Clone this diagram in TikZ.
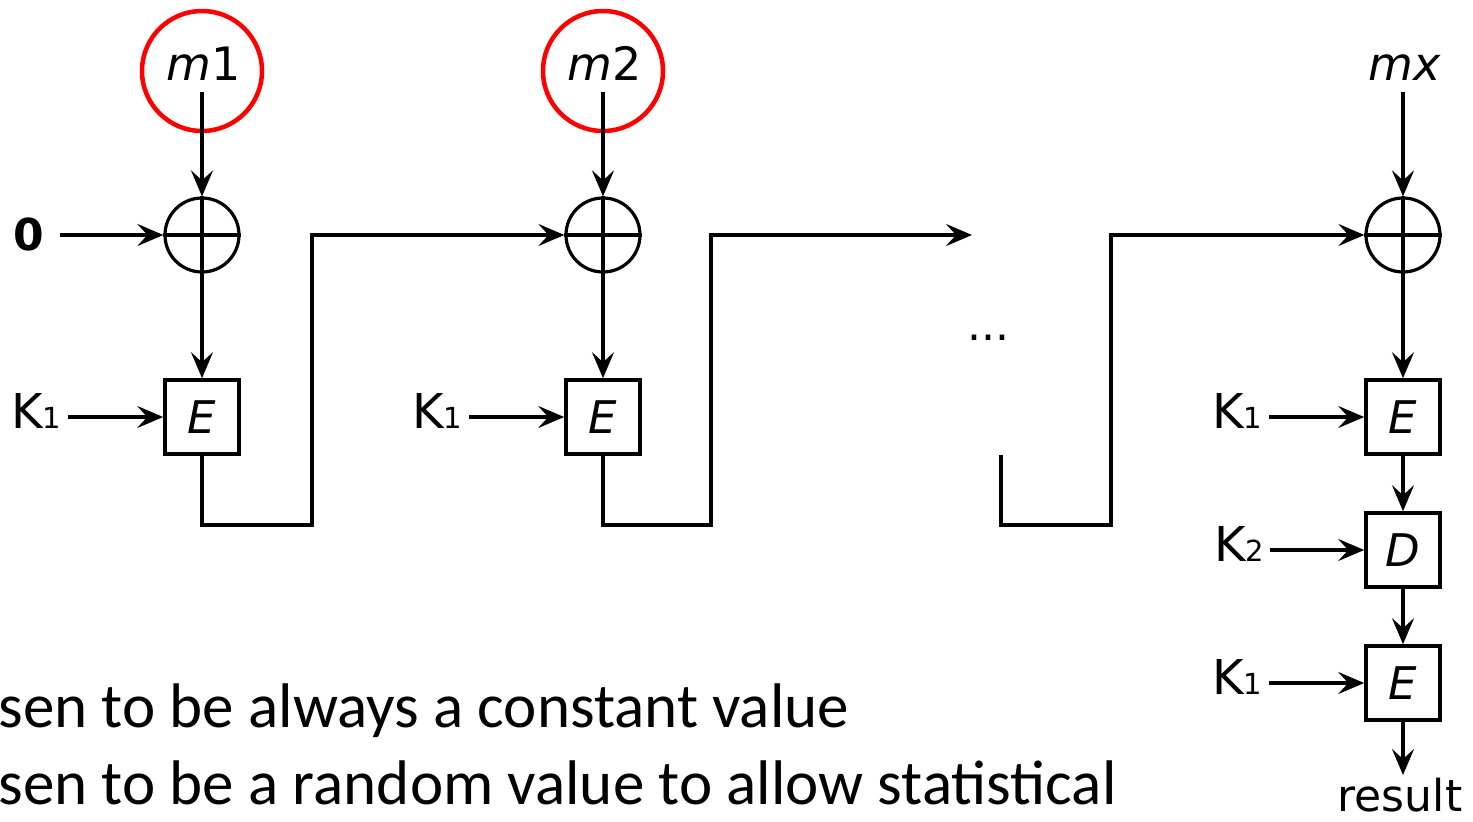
\documentclass[tikz,border=0pt]{standalone}
\usepackage{fontspec}
\setmainfont{DejaVu Sans}
\newfontfamily\bodyfont{Carlito}
\usetikzlibrary{arrows.meta}
\begin{document}
\begin{tikzpicture}[x=1pt,y=-1pt,
  line width=3.2pt,
  arr/.style={-{Stealth[length=26pt,width=22pt,inset=10pt]}},
  xorn/.style={circle,draw,minimum size=74pt,inner sep=0pt},
  blockbox/.style={draw,minimum size=74pt,inner sep=0pt,line width=3.6pt,font=\fontsize{45}{45}\selectfont\itshape},
  lbl/.style={inner sep=0pt,font=\fontsize{48}{48}\selectfont},
  ring/.style={circle,draw=red,line width=4.5pt,minimum size=120pt,inner sep=0pt},
  msg/.style={inner sep=0pt,font=\fontsize{46}{46}\selectfont}
]
\useasboundingbox (0,0) rectangle (1473,822);
\newcommand{\kk}[1]{K{\fontsize{29}{29}\selectfont #1}}

% column 1
\node[ring] (r1) at (202,71) {};
\node[msg,anchor=base] (m1) at (204,80) {\textit{m}1};
\node[xorn] (x1) at (202,235) {};
\draw (x1.north) -- (x1.south) (x1.west) -- (x1.east);
\node[inner sep=0pt,anchor=base,font=\fontsize{44}{44}\selectfont\bfseries] (zero) at (29,250) {0};
\coordinate (m1s) at (202,92);
\draw[arr] (m1s) -- (x1.north);
\draw[arr] (zero.east |- x1.west) ++(14,0) -- (x1.west);
\node[blockbox] (e1) at (202,417) {E};
\node[lbl,anchor=base east] (k1) at (63,428) {\kk{1}};
\draw[arr] (x1.south) -- (e1.north);
\draw[arr] ([xshift=5pt]k1.east |- e1.west) -- (e1.west);

% column 2
\node[ring] (r2) at (603,71) {};
\node[msg,anchor=base] (m2) at (605,80) {\textit{m}2};
\node[xorn] (x2) at (603,235) {};
\draw (x2.north) -- (x2.south) (x2.west) -- (x2.east);
\coordinate (m2s) at (603,92);
\draw[arr] (m2s) -- (x2.north);
\node[blockbox] (e2) at (603,417) {E};
\node[lbl,anchor=base east] (k2) at (464,428) {\kk{1}};
\draw[arr] (x2.south) -- (e2.north);
\draw[arr] ([xshift=5pt]k2.east |- e2.west) -- (e2.west);
\draw[arr] (e1.south) -- (202,525) -- (312,525) -- (312,235) -- (x2.west);

% middle
\coordinate (gapend) at (972,235);
\draw[arr] (e2.south) -- (603,525) -- (711,525) -- (711,235) -- (gapend);
\node[inner sep=0pt,font=\fontsize{44}{44}\selectfont] (dots) at (988,338) {...};
\coordinate (gapstart) at (1001,455);

% column 3
\node[msg,anchor=base] (mx) at (1405,80) {\textit{mx}};
\node[xorn] (x3) at (1403,235) {};
\draw (x3.north) -- (x3.south) (x3.west) -- (x3.east);
\coordinate (mxs) at (1403,92);
\draw[arr] (mxs) -- (x3.north);
\draw[arr] (gapstart) -- (1001,525) -- (1111,525) -- (1111,235) -- (x3.west);
\node[blockbox] (e3) at (1403,417) {E};
\node[lbl,anchor=base east] (k3) at (1264,428) {\kk{1}};
\draw[arr] (x3.south) -- (e3.north);
\draw[arr] ([xshift=5pt]k3.east |- e3.west) -- (e3.west);
\node[blockbox] (d3) at (1403,550) {D};
\node[lbl,anchor=base east] (k4) at (1266,561) {\kk{2}};
\draw[arr] (e3.south) -- (d3.north);
\draw[arr] ([xshift=4pt]k4.east |- d3.west) -- (d3.west);
\node[blockbox] (e4) at (1403,683) {E};
\node[lbl,anchor=base east] (k5) at (1264,694) {\kk{1}};
\draw[arr] (d3.south) -- (e4.north);
\draw[arr] ([xshift=5pt]k5.east |- e4.west) -- (e4.west);
\node[inner sep=0pt,anchor=base,font=\fontsize{44}{44}\selectfont] (res) at (1400,811) {result};
\coordinate (resend) at (1403,775);
\draw[arr] (e4.south) -- (resend);

% body text
\node[inner sep=0pt,anchor=base west,font=\bodyfont\fontsize{63}{63}\selectfont] (t1) at (-3,727) {sen to be always a constant value};
\node[inner sep=0pt,anchor=base west,font=\bodyfont\fontsize{63}{63}\selectfont] (t2) at (-3,804) {sen to be a random value to allow statistical};
\end{tikzpicture}
\end{document}
